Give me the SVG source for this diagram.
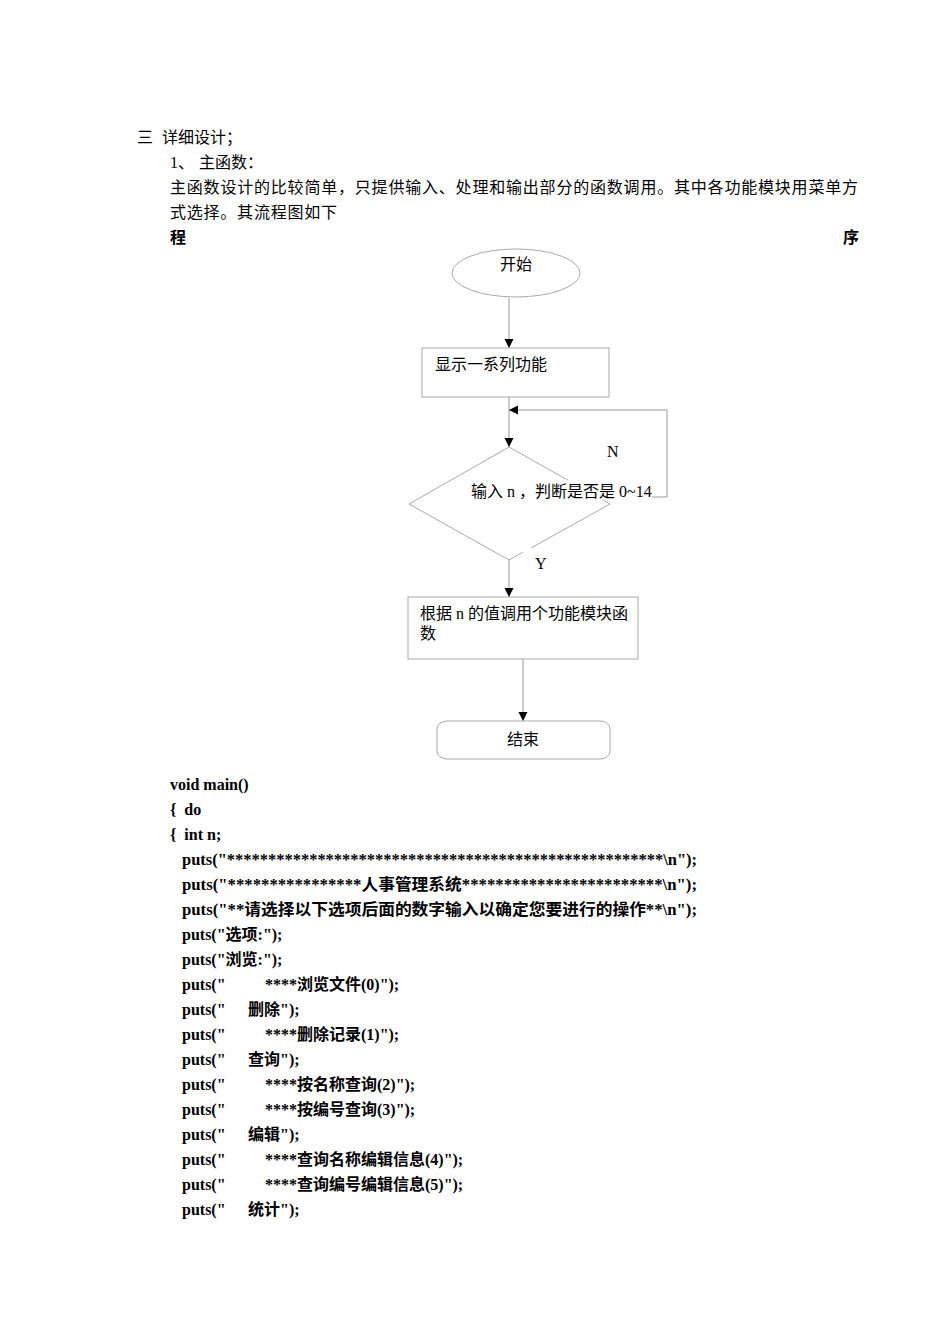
<svg xmlns="http://www.w3.org/2000/svg" width="950" height="1344" viewBox="0 0 950 1344">
<defs>
<marker id="arr" markerWidth="10" markerHeight="10" refX="9" refY="5" orient="auto" markerUnits="userSpaceOnUse">
<path d="M0,0.5 L9,5 L0,9.5 Z" fill="#000"/>
</marker>
<style>
.t{font-family:"Liberation Serif","Noto Sans CJK SC",serif;font-size:16px;fill:#000;}
.b{font-family:"Liberation Serif","Noto Sans CJK SC",serif;font-size:16px;font-weight:bold;fill:#000;}
.s{fill:#fff;stroke:#aaa;stroke-width:1;}
.c{fill:none;stroke:#999;stroke-width:1;}
</style>
</defs>
<rect width="950" height="1344" fill="#fff"/>
<g id="intro">
<text class="t" y="143"><tspan x="137">三</tspan><tspan x="162">详细设计；</tspan></text>
<text class="t" y="168"><tspan x="170">1、</tspan><tspan x="199">主函数：</tspan></text>
<text class="t" x="170" y="193" textLength="688" lengthAdjust="spacing">主函数设计的比较简单，只提供输入、处理和输出部分的函数调用。其中各功能模块用菜单方</text>
<text class="t" x="170" y="218" textLength="167" lengthAdjust="spacing">式选择。其流程图如下</text>
<text class="b" x="170" y="243">程</text>
<text class="b" x="843" y="243">序</text>
</g>
<g id="connectors">
<line class="c" x1="509" y1="298" x2="509" y2="348" marker-end="url(#arr)"/>
<line class="c" x1="509" y1="397" x2="509" y2="447" marker-end="url(#arr)"/>
<polyline class="c" points="598,497 667,497 667,410 509,410" marker-end="url(#arr)"/>
<line class="c" x1="509" y1="560" x2="509" y2="597" marker-end="url(#arr)"/>
<line class="c" x1="523" y1="659" x2="523" y2="721" marker-end="url(#arr)"/>
<text class="t" x="607" y="457">N</text>
<text class="t" x="535" y="569">Y</text>
</g>
<g id="start">
<ellipse class="s" cx="516" cy="273" rx="64" ry="24"/>
<text class="t" x="516" y="270" text-anchor="middle">开始</text>
</g>
<g id="show">
<rect class="s" x="422" y="348" width="187" height="49"/>
<text class="t" x="435" y="370">显示一系列功能</text>
</g>
<g id="decide">
<path class="c" style="stroke:#aaa" d="M523,552 L509,560 L409,504 L509,447 L610,504 L531,548"/>
<rect x="470" y="480" width="182" height="20" fill="#fff"/>
<text class="t" x="471" y="497">输入 n ，判断是否是 0~14</text>
</g>
<g id="call">
<rect class="s" x="408" y="597" width="230" height="62"/>
<text class="t" x="420" y="619">根据 n 的值调用个功能模块函</text>
<text class="t" x="420" y="639">数</text>
</g>
<g id="end">
<rect class="s" x="437" y="721" width="173" height="38" rx="10" ry="8"/>
<text class="t" x="523" y="745" text-anchor="middle">结束</text>
</g>
<g id="code">
<text class="b" x="170" y="790">void main()</text>
<text class="b" x="170" y="815" xml:space="preserve">{  do</text>
<text class="b" x="170" y="840" xml:space="preserve">{  int n;</text>
<text class="b" x="182" y="865" textLength="515" lengthAdjust="spacingAndGlyphs">puts("*****************************************************\n");</text>
<text class="b" x="182" y="890" textLength="515" lengthAdjust="spacingAndGlyphs">puts("****************人事管理系统************************\n");</text>
<text class="b" x="182" y="915" textLength="515" lengthAdjust="spacingAndGlyphs">puts("**请选择以下选项后面的数字输入以确定您要进行的操作**\n");</text>
<text class="b" x="182" y="940">puts("选项:");</text>
<text class="b" x="182" y="965">puts("浏览:");</text>
<text class="b" y="990"><tspan x="182">puts("</tspan><tspan x="265">****浏览文件(0)");</tspan></text>
<text class="b" y="1015"><tspan x="182">puts("</tspan><tspan x="248">删除");</tspan></text>
<text class="b" y="1040"><tspan x="182">puts("</tspan><tspan x="265">****删除记录(1)");</tspan></text>
<text class="b" y="1065"><tspan x="182">puts("</tspan><tspan x="248">查询");</tspan></text>
<text class="b" y="1090"><tspan x="182">puts("</tspan><tspan x="265">****按名称查询(2)");</tspan></text>
<text class="b" y="1115"><tspan x="182">puts("</tspan><tspan x="265">****按编号查询(3)");</tspan></text>
<text class="b" y="1140"><tspan x="182">puts("</tspan><tspan x="248">编辑");</tspan></text>
<text class="b" y="1165"><tspan x="182">puts("</tspan><tspan x="265">****查询名称编辑信息(4)");</tspan></text>
<text class="b" y="1190"><tspan x="182">puts("</tspan><tspan x="265">****查询编号编辑信息(5)");</tspan></text>
<text class="b" y="1215"><tspan x="182">puts("</tspan><tspan x="248">统计");</tspan></text>
</g>
</svg>
